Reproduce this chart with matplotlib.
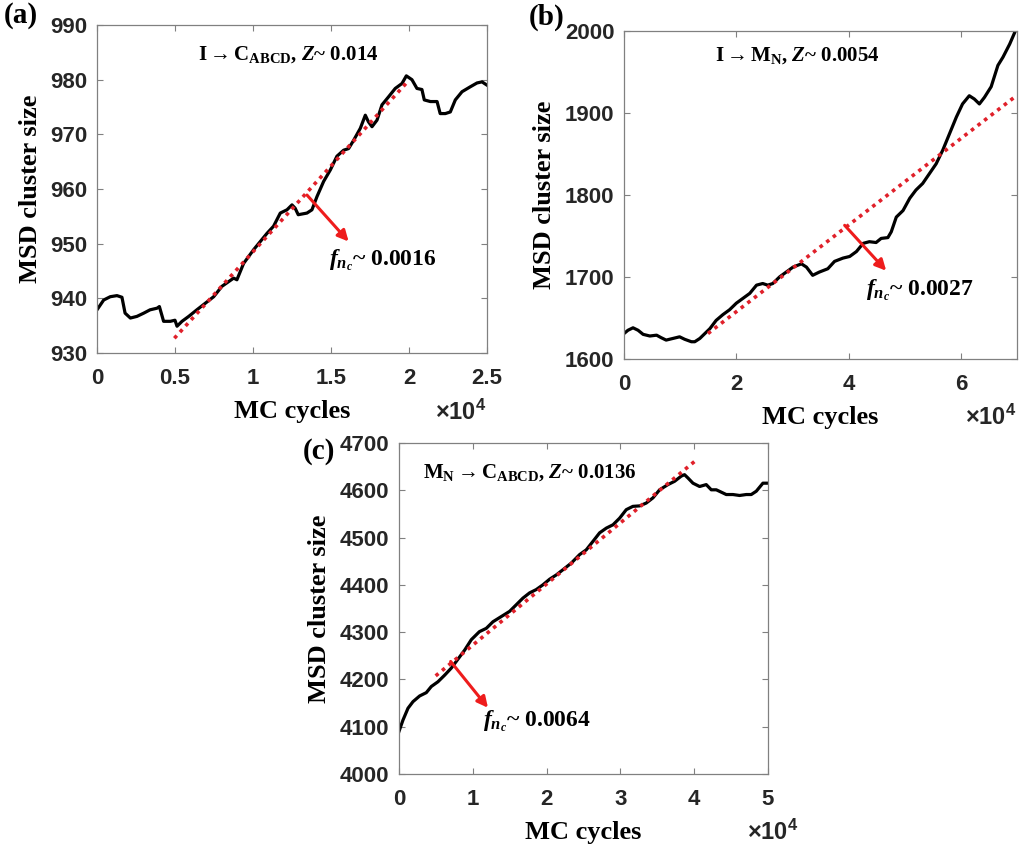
import matplotlib
matplotlib.use("Agg")
import matplotlib.pyplot as plt
from matplotlib.ticker import FuncFormatter

plt.rcParams["mathtext.fontset"] = "custom"
plt.rcParams["mathtext.rm"] = "Liberation Serif:bold"
plt.rcParams["mathtext.it"] = "Liberation Serif:italic:bold"
plt.rcParams["mathtext.bf"] = "Liberation Serif:bold"
plt.rcParams["mathtext.sf"] = "Liberation Sans:bold"

SERIF = ["Liberation Serif", "DejaVu Sans"]
SANS = ["Liberation Sans", "DejaVu Sans"]

# ---- panel (a): I -> C_ABCD
a_x = [0, 430, 850, 1280, 1600, 1800, 2140, 2560, 3000, 3400, 3850, 4000, 4270,
       4700, 5000, 5130, 5450, 5880, 6400, 6940, 7480, 8010, 8760, 8970, 9400,
       10040, 10470, 10900, 11320, 11750, 12180, 12500, 12700, 12900, 13460,
       13780, 14100, 14530, 14960, 15380, 15810, 16130, 16450, 16880, 17200,
       17400, 17630, 17950, 18270, 18700, 19120, 19550, 19830, 20190, 20510,
       20830, 20980, 21370, 21800, 22000, 22330, 22650, 22970, 23400, 23930,
       24360, 24680, 25000]
a_y = [937.9, 939.7, 940.3, 940.5, 940.2, 937.3, 936.4, 936.7, 937.3, 937.9,
       938.2, 938.5, 935.8, 935.8, 936.0, 934.9, 935.8, 936.7, 937.9, 939.1,
       940.3, 942.2, 943.7, 943.4, 946.4, 948.9, 950.4, 951.9, 953.2, 955.6,
       956.2, 957.1, 956.5, 955.3, 955.6, 956.2, 958.6, 961.4, 963.5, 966.0,
       967.1, 967.4, 968.9, 971.1, 973.5, 972.3, 971.4, 972.6, 975.4, 976.9,
       978.4, 979.3, 980.7, 980.0, 978.4, 978.2, 976.3, 976.0, 976.0, 973.8,
       973.8, 974.1, 976.3, 977.8, 978.7, 979.4, 979.6, 979.0]
a_fit_x = [4960, 19900]
a_fit_y = [932.7, 979.6]
a_arrow = [(13460, 958.9), (16130, 950.4)]

# ---- panel (b): I -> M_N
b_x = [0, 700, 1600, 2500, 3400, 4600, 5800, 6600, 7500, 8700, 9900, 10800,
       12000, 12600, 13500, 14100, 15300, 16400, 17600, 18800, 20000, 21200,
       22400, 23600, 24700, 25600, 26500, 27700, 28900, 30100, 31600, 32500,
       33600, 34800, 36300, 37500, 39000, 40200, 41400, 42600, 43700, 44900,
       45800, 47000, 47600, 48500, 49700, 50900, 52000, 53200, 54400, 55600,
       56800, 58000, 59200, 60300, 61500, 62400, 63300, 64200, 65400, 66600,
       67500, 68700, 69900]
b_y = [1631, 1635, 1638, 1635, 1630, 1628, 1629, 1626, 1623, 1625, 1627, 1624,
       1621, 1621, 1625, 1629, 1637, 1647, 1654, 1660, 1668, 1674, 1680, 1690,
       1692, 1690, 1692, 1700, 1706, 1712, 1716, 1712, 1702, 1706, 1710, 1719,
       1723, 1725, 1731, 1741, 1743, 1742, 1747, 1748, 1755, 1773, 1781, 1796,
       1806, 1814, 1826, 1838, 1855, 1875, 1895, 1911, 1921, 1917, 1911, 1919,
       1932, 1958, 1968, 1984, 2003]
b_fit_x = [14950, 70000]
b_fit_y = [1631, 1921.6]
b_arrow = [(39300, 1763), (46700, 1707.6)]

# ---- panel (c): M_N -> C_ABCD
c_x = [0, 540, 1220, 1900, 2800, 3700, 4380, 5280, 6190, 7090, 8000, 8900,
       9800, 10900, 11830, 12740, 13870, 15000, 15900, 16800, 17700, 18600,
       19500, 20420, 21320, 22220, 23350, 24480, 25380, 26290, 27190, 28100,
       29000, 29900, 30800, 31700, 32620, 33510, 34420, 35320, 36450, 37350,
       38260, 38700, 39160, 39840, 40740, 41640, 42320, 43000, 43680, 44350,
       45260, 46160, 47060, 47740, 48420, 49320, 50000]
c_y = [4090, 4114, 4139, 4153, 4165, 4172, 4185, 4195, 4209, 4224, 4243, 4262,
       4284, 4301, 4308, 4322, 4333, 4344, 4358, 4372, 4383, 4390, 4400, 4412,
       4421, 4432, 4446, 4464, 4474, 4492, 4510, 4520, 4527, 4541, 4559, 4566,
       4567, 4573, 4584, 4601, 4612, 4619, 4630, 4633, 4626, 4615, 4608, 4612,
       4601, 4601, 4596, 4591, 4591, 4589, 4591, 4591, 4598, 4615, 4615]
c_fit_x = [4970, 40060]
c_fit_y = [4207.5, 4661]
c_arrow = [(7000, 4238), (12060, 4140)]

panels = [
    dict(x=a_x, y=a_y, fx=a_fit_x, fy=a_fit_y, arrow=a_arrow,
         rect=[0.0949, 0.5837, 0.3816, 0.3868], xlim=(0, 25000), ylim=(930, 990),
         xticks=[0, 5000, 10000, 15000, 20000, 25000], yticks=range(930, 991, 10),
         label="(a)", label_xy=(0.004, 0.982),
         title=r"I$\rightarrow$C$_{\mathrm{ABCD}}$, $Z$~ 0.014", title_xy=(0.49, 0.91),
         fnc=r"$f_{n_c}$~ 0.0016", fnc_xy=(14850, 947.0), mult_xy=(0.426, 0.514)),
    dict(x=b_x, y=b_y, fx=b_fit_x, fy=b_fit_y, arrow=b_arrow,
         rect=[0.6106, 0.5767, 0.3845, 0.3868], xlim=(0, 70000), ylim=(1600, 2000),
         xticks=[0, 20000, 40000, 60000], yticks=range(1600, 2001, 100),
         label="(b)", label_xy=(0.517, 0.979),
         title=r"I$\rightarrow$M$_{\mathrm{N}}$, $Z$~ 0.0054", title_xy=(0.44, 0.926),
         fnc=r"$f_{n_c}$~ 0.0027", fnc_xy=(43150, 1684), mult_xy=(0.944, 0.508)),
    dict(x=c_x, y=c_y, fx=c_fit_x, fy=c_fit_y, arrow=c_arrow,
         rect=[0.3904, 0.0873, 0.3610, 0.3903], xlim=(0, 50000), ylim=(4000, 4700),
         xticks=[0, 10000, 20000, 30000, 40000, 50000], yticks=range(4000, 4701, 100),
         label="(c)", label_xy=(0.296, 0.467),
         title=r"M$_{\mathrm{N}}$$\rightarrow$C$_{\mathrm{ABCD}}$, $Z$~ 0.0136",
         title_xy=(0.354, 0.91),
         fnc=r"$f_{n_c}$~ 0.0064", fnc_xy=(11380, 4111), mult_xy=(0.731, 0.018)),
]

fig = plt.figure(figsize=(10.22, 8.48), dpi=100)
fmt = FuncFormatter(lambda v, p: f"{v / 1e4:g}")

for p in panels:
    ax = fig.add_axes(p["rect"])
    ax.plot(p["x"], p["y"], color="black", lw=2.3, zorder=2)
    ax.plot(p["fx"], p["fy"], color="#e0202a", lw=2.6, ls=(0, (1, 1.3)), zorder=3)
    (sx, sy), (ex, ey) = p["arrow"]
    ax.annotate("", xy=(ex, ey), xytext=(sx, sy),
                arrowprops=dict(arrowstyle="-|>", color="#ee1c1c", lw=2.2,
                                mutation_scale=16, shrinkA=0, shrinkB=0), zorder=4)
    ax.set_xlim(*p["xlim"])
    ax.set_ylim(*p["ylim"])
    ax.set_xticks(p["xticks"])
    ax.set_yticks(list(p["yticks"]))
    ax.xaxis.set_major_formatter(fmt)
    ax.tick_params(direction="in", length=4, width=0.8, color="#808080",
                   top=True, right=True)
    ax.tick_params(axis="x", pad=11)
    ax.tick_params(axis="y", pad=7)
    for t in ax.get_xticklabels() + ax.get_yticklabels():
        t.set_fontfamily(SANS)
        t.set_fontweight("bold")
        t.set_fontsize(16)
        t.set_color("#262626")
    for s in ax.spines.values():
        s.set_color("#808080")
        s.set_linewidth(0.9)
    ax.set_xlabel("MC cycles", family=SERIF, fontweight="bold", fontsize=19, labelpad=8)
    ax.set_ylabel("MSD cluster size", family=SERIF, fontweight="bold", fontsize=19, labelpad=6)
    ax.text(*p["title_xy"], p["title"], transform=ax.transAxes, ha="center", va="center",
            family=SERIF, fontweight="bold", fontsize=15)
    ax.text(*p["fnc_xy"], p["fnc"], ha="left", va="center",
            family=SERIF, fontweight="bold", fontsize=17)
    fig.text(*p["mult_xy"], r"$\mathsf{\times 10^4}$", fontsize=17,
             ha="left", va="center", color="#262626")
    fig.text(*p["label_xy"], p["label"], family=SERIF, fontweight="bold", fontsize=21,
             ha="left", va="center")

fig.savefig("out.png", dpi=100)
